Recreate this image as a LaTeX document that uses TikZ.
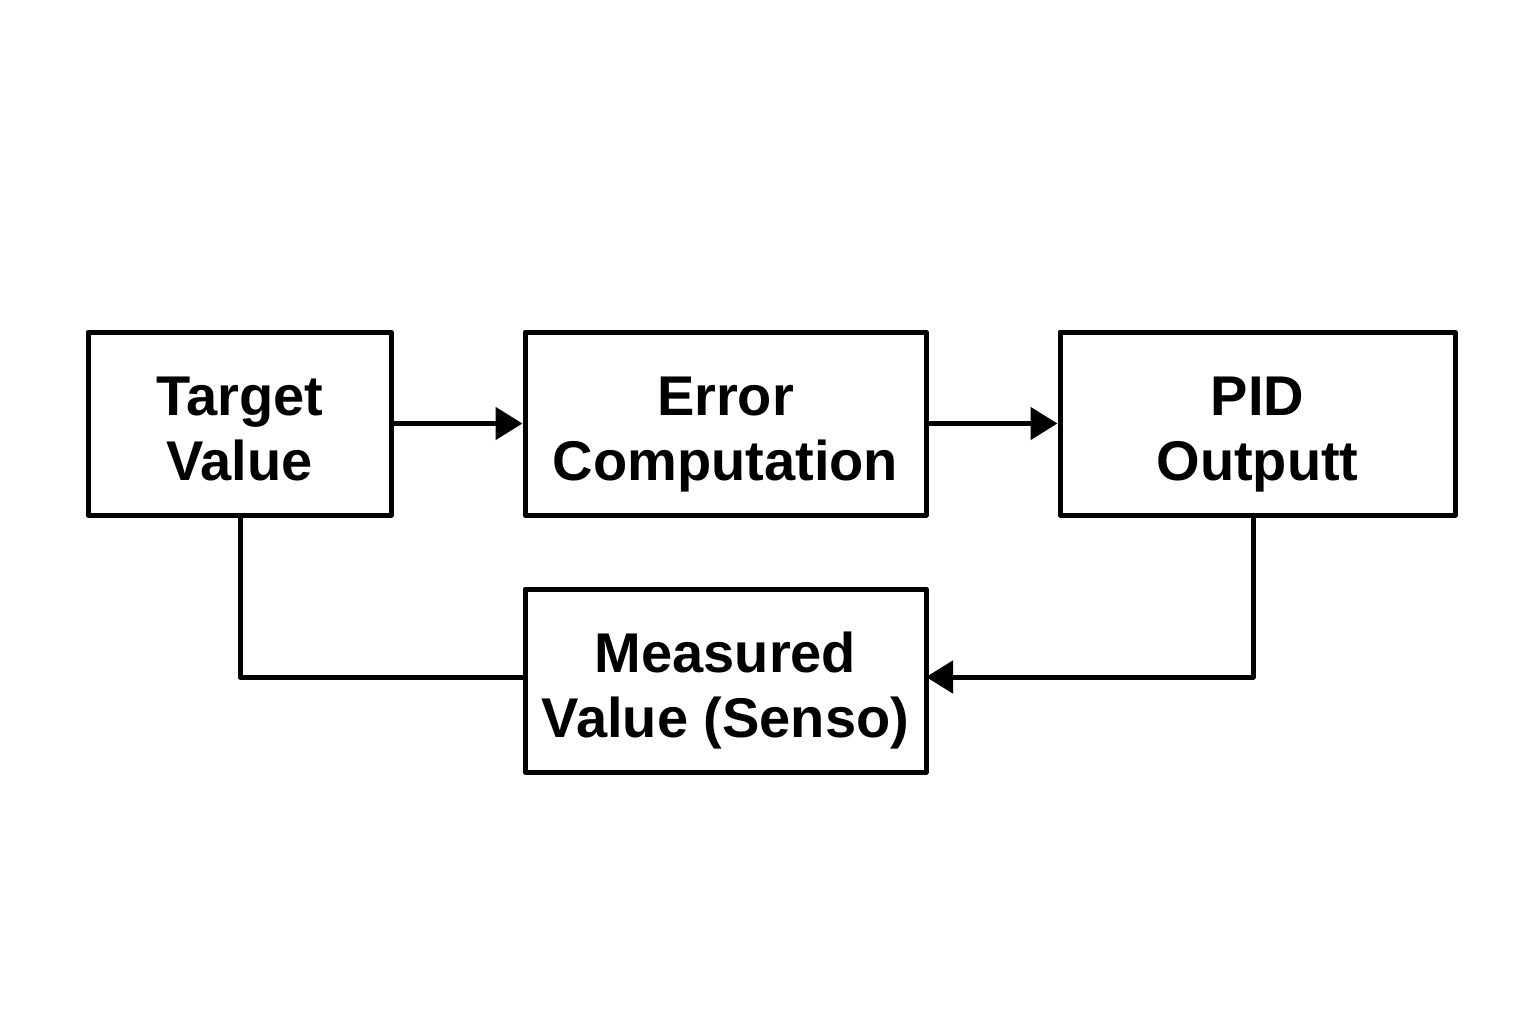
\documentclass[tikz,border=0pt]{standalone}
\usepackage{fontspec}
\setmainfont{Liberation Sans}
\usetikzlibrary{arrows.meta}
\newcommand{\toppad}{\rule{0pt}{64pt}}
\newcommand{\botpad}{\rule[-16pt]{0pt}{16pt}}
\begin{document}
\begin{tikzpicture}[x=1pt,y=-1pt,
  blockbox/.style={draw=black,line width=5pt,line join=round,inner sep=0pt,
    minimum height=183pt,align=center,
    font=\fontsize{56}{65}\selectfont\bfseries},
  conn/.style={line width=5pt,line join=round,draw=black},
  arr/.style={conn,-{Triangle[length=27pt,width=32pt]}}]
\useasboundingbox[fill=white] (0,0) rectangle (1536,1024);
\node[blockbox,minimum width=303pt] (target) at (239.5,423.5) {\toppad Target\\Value\botpad};
\node[blockbox,minimum width=401pt] (error) at (725.5,423.5) {\toppad Error\\Computation\botpad};
\node[blockbox,minimum width=395pt] (pid) at (1257.5,423.5) {\toppad PID\\Outputt\botpad};
\node[blockbox,minimum width=401pt] (meas) at (725.5,680.5) {\toppad Measured\\Value (Senso)\botpad};
\coordinate (pidb) at (1253,515);
\coordinate (pidc) at (1253,677);
\coordinate (measr) at (926,677);
\coordinate (tgtb) at (240,515);
\coordinate (tgtc) at (240,677);
\coordinate (measl) at (525,677);
\draw[arr] (target.east) -- (error.west);
\draw[arr] (error.east) -- (pid.west);
\draw[arr] (pidb) -- (pidc) -- (measr);
\draw[conn] (tgtb) -- (tgtc) -- (measl);
\end{tikzpicture}
\end{document}
